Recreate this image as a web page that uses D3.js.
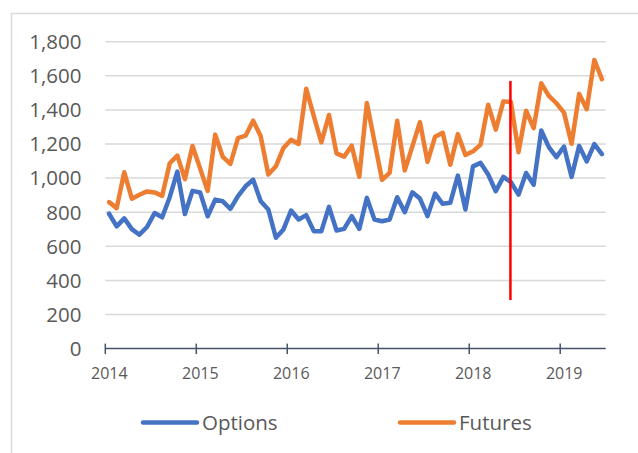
<!DOCTYPE html>
<html>
<head>
<meta charset="utf-8">
<script src="https://cdn.jsdelivr.net/npm/d3@7"></script>
<style>
  body { margin: 0; background: #fff; }
  svg { display: block; }
  text { font-family: "Open Sans", "Noto Sans", sans-serif; fill: #595959; }
</style>
</head>
<body>
<div class="chart"></div>
<script>
// monthly volumes, Jan 2014 .. Jun 2019
const months = d3.timeMonth.range(new Date(2014, 0, 1), new Date(2019, 6, 1))

const options = [
  791, 717, 764, 701, 668, 713, 795, 770, 888, 1038, 789, 925,
  916, 776, 874, 864, 820, 894, 952, 991, 864, 816, 650, 699,
  810, 757, 783, 689, 689, 831, 693, 702, 777, 702, 884, 757,
  747, 757, 888, 800, 917, 880, 777, 909, 849, 855, 1015, 816,
  1069, 1089, 1021, 923, 1007, 976, 903, 1030, 961, 1279, 1182, 1123,
  1185, 1006, 1189, 1098, 1199, 1141
]

const futures = [
  859, 824, 1034, 879, 902, 922, 916, 896, 1087, 1132, 994, 1188,
  1057, 925, 1255, 1124, 1083, 1235, 1249, 1337, 1245, 1021, 1069, 1177,
  1225, 1200, 1524, 1364, 1210, 1370, 1145, 1126, 1190, 1008, 1440, 1215,
  990, 1031, 1336, 1045, 1186, 1328, 1095, 1243, 1266, 1078, 1258, 1136,
  1157, 1196, 1430, 1284, 1450, 1446, 1152, 1395, 1293, 1556, 1482, 1439,
  1384, 1201, 1494, 1404, 1693, 1580
]

const yearTicks = [2014, 2015, 2016, 2017, 2018, 2019]
const valueTicks = [0, 200, 400, 600, 800, 1000, 1200, 1400, 1600, 1800]

// marker line (June 2018)
const markerMonth = new Date(2018, 5, 1)
const markerRange = [285, 1570]

const series = [
  { name: 'Options', values: options, color: '#4472c4' },
  { name: 'Futures', values: futures, color: '#ed7d31' }
]

const width = 638, height = 453

const svg = d3.select('.chart')
  .append('svg')
  .attr('width', width)
  .attr('height', height)

// outer frame (cut off at right/bottom like the screenshot)
svg.append('rect')
  .attr('x', 11.5).attr('y', 13.5)
  .attr('width', 660).attr('height', 460)
  .attr('fill', 'none')
  .attr('stroke', '#d9d9d9')
  .attr('stroke-width', 1.5)

const x = d3.scaleBand()
  .domain(months.map(d => +d))
  .range([105.3, 605.7])

const y = d3.scaleLinear()
  .domain([0, 1800])
  .range([348.6, 41.7])

const cx = d => x(+d) + x.bandwidth() / 2

// gridlines
svg.append('g')
  .selectAll('line')
  .data(valueTicks.slice(1))
  .join('line')
  .attr('x1', 105.3).attr('x2', 605.7)
  .attr('y1', d => y(d)).attr('y2', d => y(d))
  .attr('stroke', '#d9d9d9')
  .attr('stroke-width', 1.5)

// y labels
svg.append('g')
  .attr('text-anchor', 'end')
  .selectAll('text')
  .data(valueTicks)
  .join('text')
  .attr('x', 81.5)
  .attr('y', d => y(d))
  .attr('dy', '0.36em')
  .style('font-size', '20.5px')
  .text(d3.format(','))

// x axis
const xAxis = svg.append('g')
xAxis.append('line')
  .attr('x1', 105.3).attr('x2', 605.7)
  .attr('y1', y(0)).attr('y2', y(0))
  .attr('stroke', '#44546a')
  .attr('stroke-width', 1.5)

xAxis.selectAll('.tick')
  .data(yearTicks)
  .join('line')
  .attr('class', 'tick')
  .attr('x1', d => x(+new Date(d, 0, 1))).attr('x2', d => x(+new Date(d, 0, 1)))
  .attr('y1', y(0) - 5).attr('y2', y(0) + 5.5)
  .attr('stroke', '#44546a')
  .attr('stroke-width', 1.5)

xAxis.selectAll('text')
  .data(yearTicks)
  .join('text')
  .attr('x', d => x(+new Date(d, 0, 1)) + 4)
  .attr('y', 379)
  .attr('text-anchor', 'middle')
  .style('font-size', '16px')
  .text(d => d)

// series lines
const line = d3.line()
  .x((d, i) => cx(months[i]))
  .y(d => y(d))

svg.append('g')
  .selectAll('path')
  .data(series)
  .join('path')
  .attr('d', d => line(d.values))
  .attr('fill', 'none')
  .attr('stroke', d => d.color)
  .attr('stroke-width', 4.5)
  .attr('stroke-linejoin', 'round')
  .attr('stroke-linecap', 'round')

// red marker
svg.append('line')
  .attr('x1', cx(markerMonth) - 0.5).attr('x2', cx(markerMonth) - 0.5)
  .attr('y1', y(markerRange[1])).attr('y2', y(markerRange[0]))
  .attr('stroke', '#ff0000')
  .attr('stroke-width', 2.5)

// legend
const legendX = [143, 400]
const legend = svg.append('g')
  .selectAll('g')
  .data(series)
  .join('g')
  .attr('transform', (d, i) => `translate(${legendX[i]},422.5)`)

legend.append('line')
  .attr('x1', 0).attr('x2', 54)
  .attr('stroke', d => d.color)
  .attr('stroke-width', 4.5)
  .attr('stroke-linecap', 'round')

legend.append('text')
  .attr('x', 59)
  .attr('dy', '0.36em')
  .style('font-size', '20.5px')
  .text(d => d.name)
</script>
</body>
</html>
